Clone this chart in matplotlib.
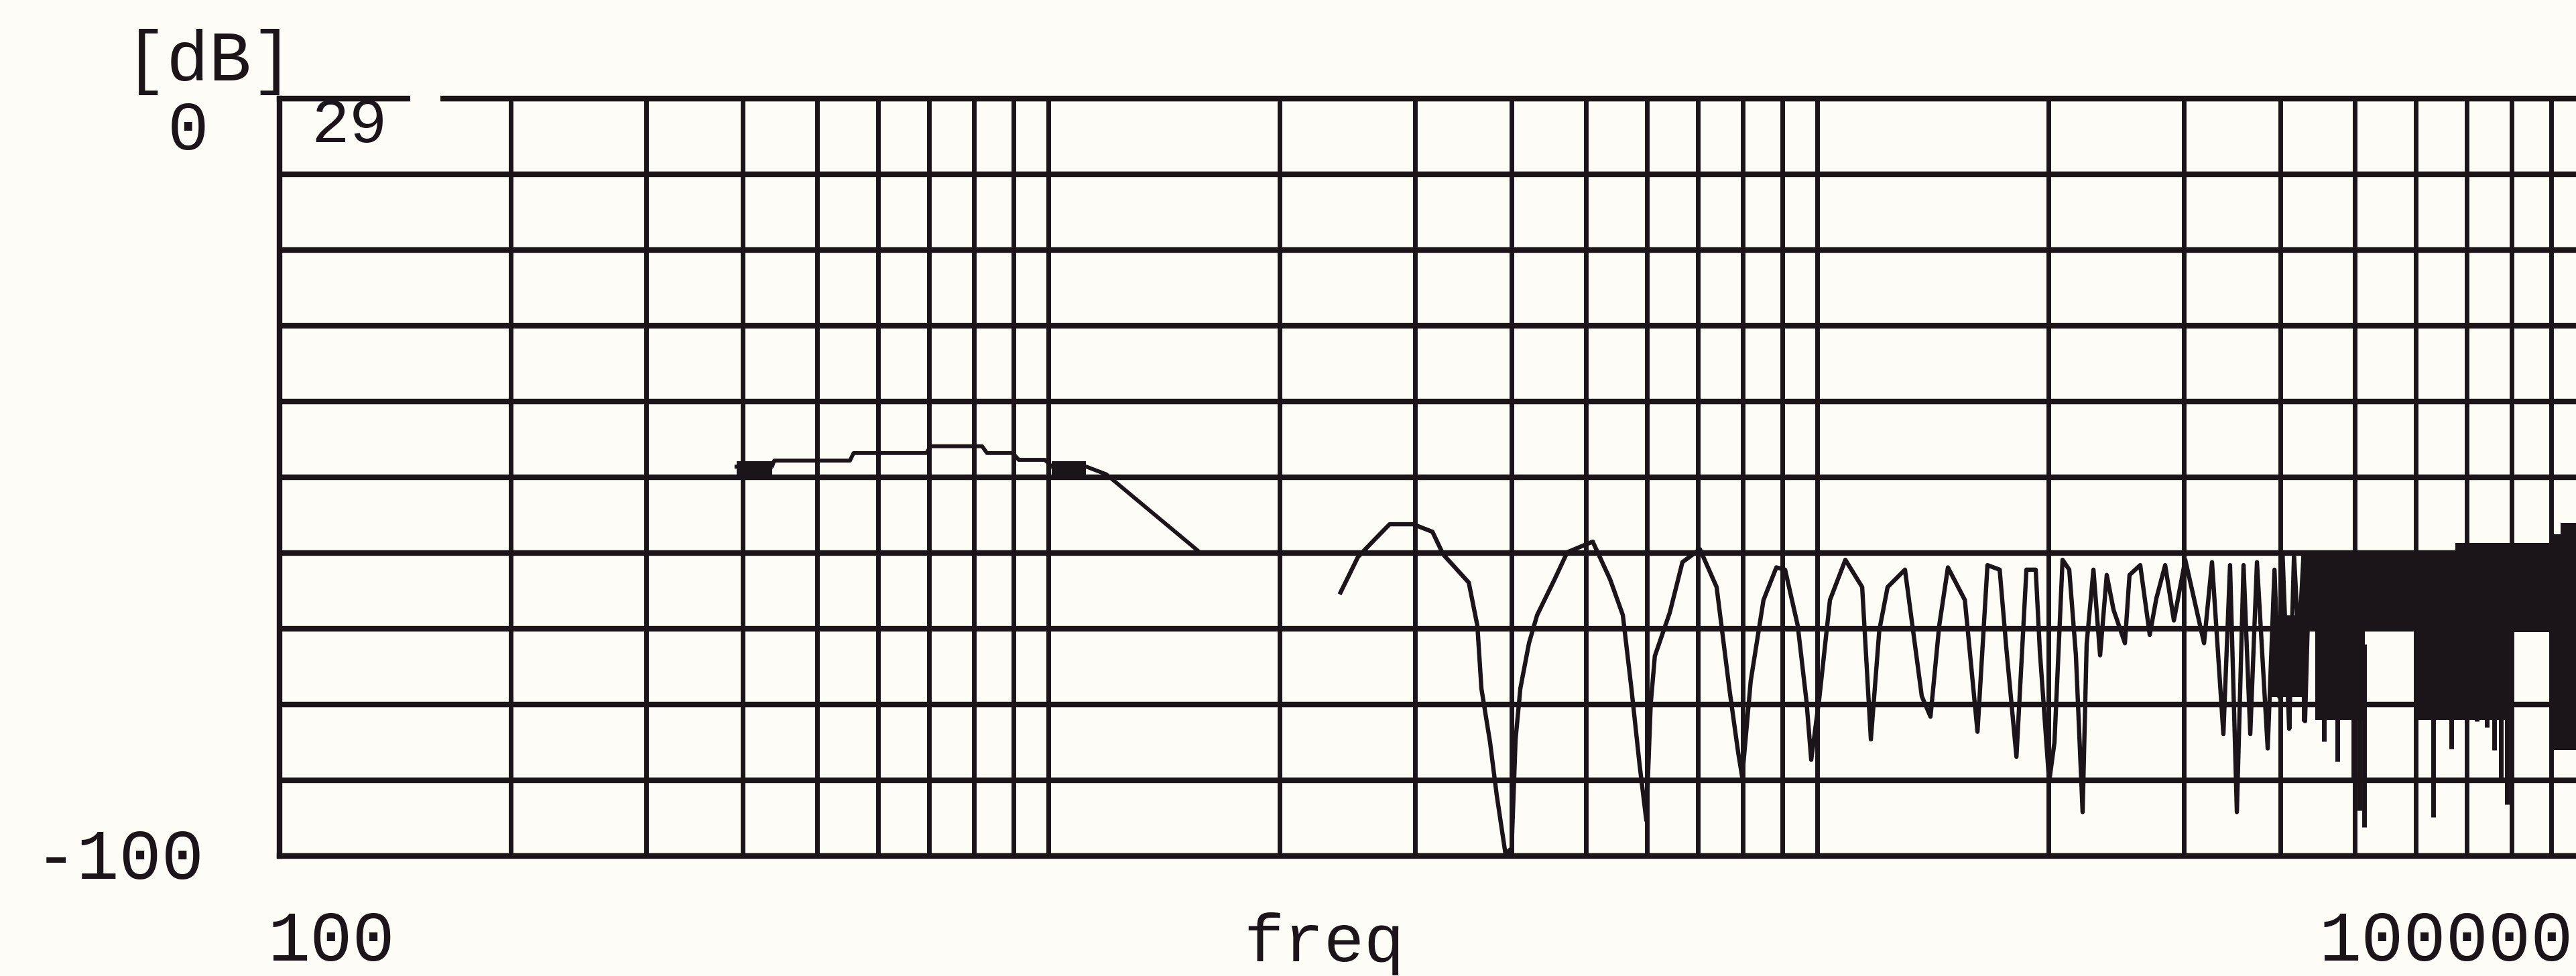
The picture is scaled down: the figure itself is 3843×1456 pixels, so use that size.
import matplotlib
matplotlib.use("Agg")
import matplotlib.pyplot as plt
from matplotlib.ticker import LogLocator, NullFormatter
from matplotlib.patches import Rectangle

# low band (step-like response around -47 dB, then roll-off)
low_freq = [393, 437, 440, 552, 558, 694, 703, 820, 832, 899, 915, 990, 1010, 1120,
            1189, 1578]
low_db = [-48.6, -48.6, -47.8, -47.8, -46.8, -46.8, -45.9, -45.9, -46.8, -46.8, -47.7,
          -47.7, -48.6, -48.6, -49.6, -60.0]
# short thick blocks at both ends of the low band
block_start = [393, 1010]
block_end = [437, 1120]
block_top = -47.9
block_bottom = -50.2

# comb-filtered upper band
comb_freq = [2399, 2528, 2658, 2779, 2981, 3159, 3263, 3522, 3614, 3658, 3754, 3830,
             3931, 4004, 4052, 4110, 4218, 4322, 4553, 4730, 4913, 5105, 5379, 5587,
             5734, 5875, 5994, 6073, 6149, 6429, 6679, 7038, 7399, 7688, 7891, 7988,
             8194, 8514, 8848, 9083, 9434, 9684, 9822, 10067, 10389, 10880, 11441,
             11743, 12043, 12346, 13006, 13677, 14038, 14410, 14791, 15560, 16161,
             16650, 17270, 17620, 18160, 18490, 18710, 19240, 19480, 20030, 20350,
             20850, 21270, 21700, 22140, 22410, 22870, 23330, 23800, 24290, 25130,
             25480, 26310, 27070, 27610, 28350, 29100, 30110, 31850, 32620, 33750,
             34430, 35140, 35850, 36580, 37320, 38540, 39330, 39900, 40300, 41100,
             41700, 42300, 42900, 43100, 43700, 44300]
comb_db = [-65.2, -60.5, -58.2, -56.2, -56.2, -57.2, -60.2, -63.9, -69.6, -77.9, -85.0,
           -92.0, -99.7, -99.0, -84.6, -77.9, -71.9, -68.2, -63.5, -59.9, -59.2, -58.5,
           -63.5, -68.2, -78.0, -88.0, -95.3, -80.0, -73.6, -67.9, -61.2, -59.5, -64.5,
           -78.0, -86.3, -89.6, -76.9, -66.2, -61.9, -62.2, -69.6, -79.6, -87.3, -79.0,
           -66.2, -60.9, -64.5, -84.6, -70.2, -64.5, -62.2, -78.9, -81.6, -69.6, -61.9,
           -66.2, -83.6, -61.6, -62.2, -72.6, -86.9, -72.0, -62.2, -62.2, -73.0, -90.2,
           -85.0, -60.9, -62.2, -73.5, -94.2, -72.0, -62.2, -73.5, -62.9, -67.5, -71.9,
           -62.9, -61.6, -70.8, -66.0, -61.6, -68.9, -60.9, -71.9, -61.2, -83.9, -61.6,
           -94.2, -61.6, -83.9, -61.2, -85.8, -62.2, -79.0, -60.3, -83.2, -60.3, -72.0,
           -60.3, -82.2, -60.3, -70.0]

# dense (solid) region above ~40 kHz: envelope per band
dense_freq = [39000, 43100, 44400, 51600, 60400, 67600, 79500, 89800, 92600, 100000]
dense_top = [-68.2, -60.3, -60.3, -60.3, -59.9, -58.7, -58.7, -57.5, -56.0, -56.0]
dense_bot = [-79.0, -70.3, -82.0, -70.3, -82.0, -82.0, -70.4, -86.0, -86.0, -86.0]

# narrow notches hanging below the dense region
spike_freq = [41100, 42950, 45610, 47490, 49800, 50700, 51440, 63270, 66800, 72110,
              74300, 76000, 77500, 78900]
spike_db = [-83.2, -82.2, -84.9, -87.5, -90.0, -94.0, -96.2, -94.9, -85.8, -82.2,
            -83.0, -86.0, -90.0, -93.2]

x_labels = ["100", "freq", "100000"]
y_labels = ["0", "-100"]
unit_label = "[dB]"
curve_id = "29"

INK = "#1b1419"
PAPER = "#fdfcf6"
FONT = "Liberation Mono"

fig = plt.figure(figsize=(38.43, 14.56), dpi=100, facecolor=PAPER)
ax = fig.add_axes([0.10851, 0.12294, 0.89540, 0.77610])
ax.set_facecolor(PAPER)

ax.set_xscale("log")
ax.set_xlim(100, 100000)
ax.set_ylim(-100, 0)

ax.xaxis.set_major_locator(LogLocator(base=10))
ax.xaxis.set_minor_locator(LogLocator(base=10, subs=range(2, 10)))
ax.xaxis.set_major_formatter(NullFormatter())
ax.xaxis.set_minor_formatter(NullFormatter())
ax.set_yticks(range(-100, 1, 10))
ax.set_yticklabels([])
ax.tick_params(which="both", length=0)
ax.grid(True, axis="x", which="both", color=INK, lw=5.0)
ax.grid(True, axis="y", which="major", color=INK, lw=6.0)
ax.set_axisbelow(True)
for side in ("left", "top", "bottom", "right"):
    ax.spines[side].set_color(INK)
    ax.spines[side].set_linewidth(6.0)

ax.plot(low_freq, low_db, color=INK, lw=4.2)
for s, e in zip(block_start, block_end):
    ax.fill_between([s, e], block_bottom, block_top, color=INK, lw=0)
ax.plot(comb_freq, comb_db, color=INK, lw=4.6)
ax.fill_between(dense_freq, dense_bot, dense_top, step="post", color=INK, lw=0)
ax.vlines(spike_freq, spike_db, -72, color=INK, lw=5.0)

# small break in the top frame next to the curve number
ax.add_patch(Rectangle((0.0567, 0.985), 0.013, 0.03, transform=ax.transAxes,
                       facecolor=PAPER, edgecolor="none", clip_on=False, zorder=5))

txt = dict(family=FONT, color=INK)
fig.text(0.1356, 0.8709, curve_id, fontsize=68, ha="center", va="center", **txt)
fig.text(0.0812, 0.9368, unit_label, fontsize=76, ha="center", va="center", **txt)
fig.text(0.0731, 0.8647, y_labels[0], fontsize=74, ha="center", va="center", **txt)
fig.text(0.0463, 0.1188, y_labels[1], fontsize=76, ha="center", va="center", **txt)
fig.text(0.1286, 0.0350, x_labels[0], fontsize=76, ha="center", va="center", **txt)
fig.text(0.5140, 0.0330, x_labels[1], fontsize=72, ha="center", va="center", **txt)
fig.text(0.9001, 0.0350, x_labels[2], fontsize=76, ha="left", va="center", **txt)

fig.savefig("out.png", dpi=100, facecolor=PAPER)
